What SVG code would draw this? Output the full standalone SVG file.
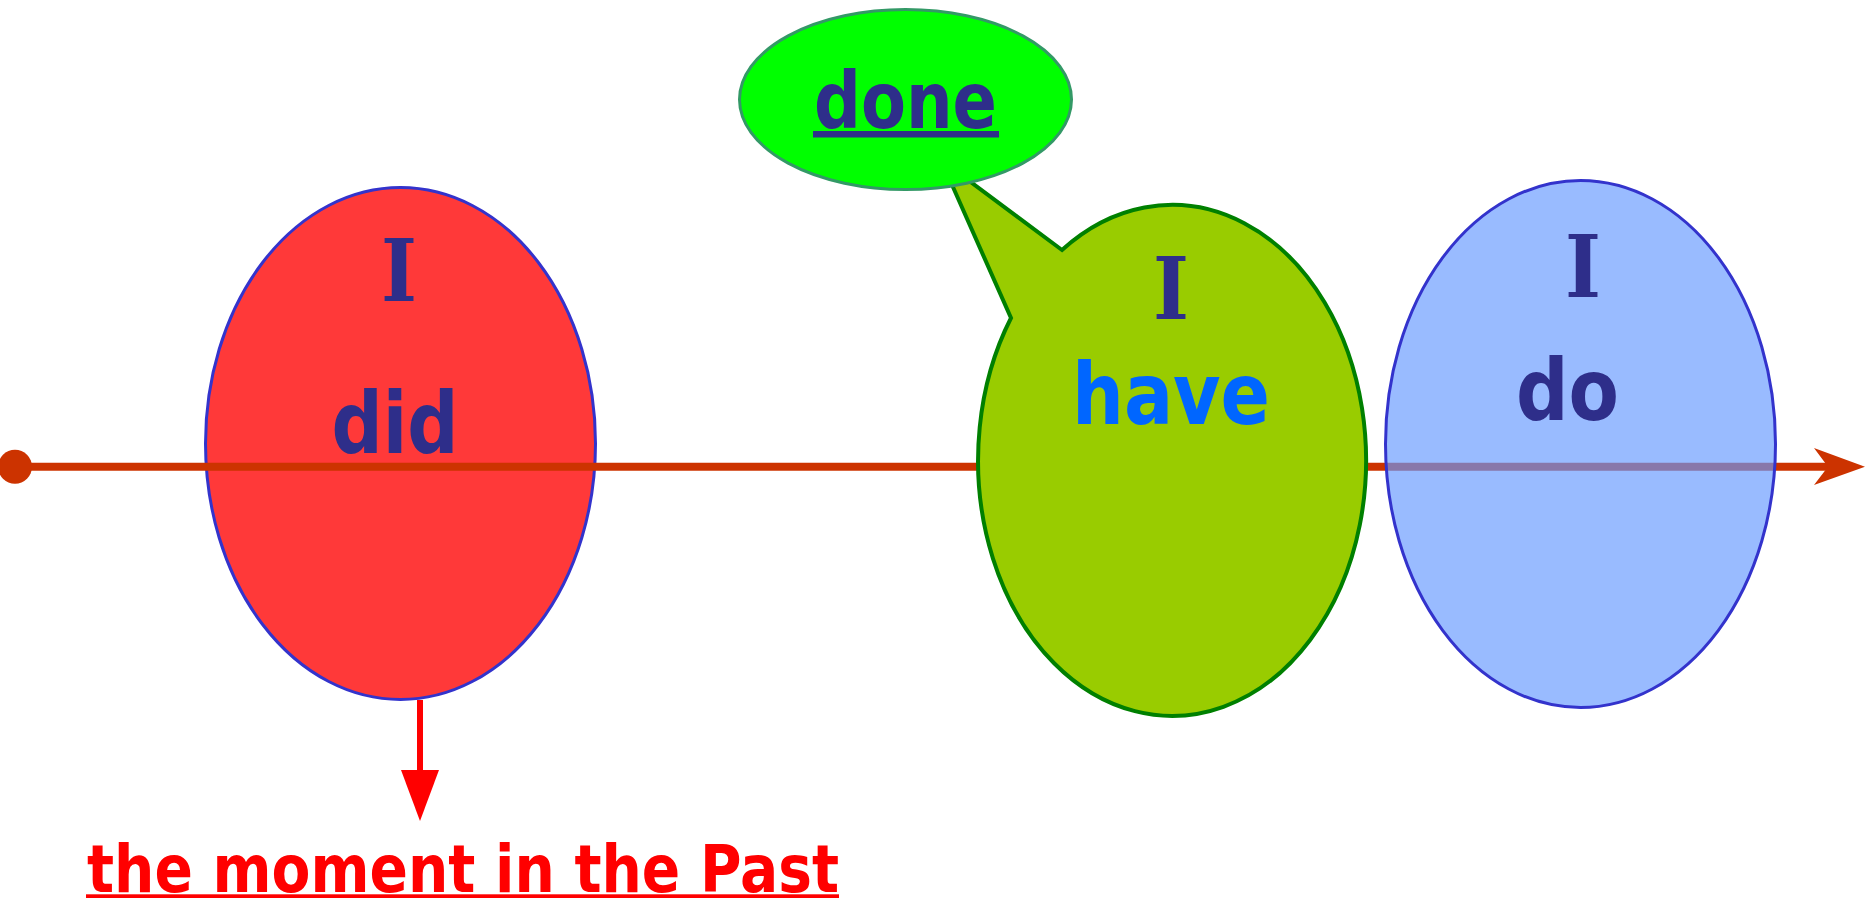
<svg xmlns="http://www.w3.org/2000/svg" width="1872" height="898" viewBox="0 0 1872 898">
  <style>
    .t { font-family: "DejaVu Sans", "Liberation Sans", sans-serif; font-weight: bold; text-anchor: middle; }
    .i { font-family: "DejaVu Serif", "Liberation Serif", serif; font-weight: bold; text-anchor: middle; font-size: 86px; fill: #2E2E8A; }
    .navy { fill: #2E2E8A; }
    .big { font-size: 86px; }
  </style>
  <rect width="1872" height="898" fill="#FFFFFF"/>

  <g id="node-did">
    <ellipse cx="400.5" cy="443.5" rx="195" ry="256" fill="#FF3939" stroke="#3333CC" stroke-width="3"/>
    <text class="i" x="399" y="300.5" textLength="36" lengthAdjust="spacingAndGlyphs">I</text>
    <text class="t navy big" x="395" y="452.5" textLength="127" lengthAdjust="spacingAndGlyphs">did</text>
  </g>

  <g id="connectors">
    <line x1="15" y1="466.7" x2="1830" y2="466.7" stroke="#CC3300" stroke-width="8"/>
    <circle cx="15" cy="466.7" r="17" fill="#CC3300"/>
    <polygon points="1865,466.7 1814,448 1828,466.7 1814,485" fill="#CC3300"/>
    <line x1="420" y1="700" x2="420" y2="772" stroke="#FF0000" stroke-width="6"/>
    <polygon points="401,770 439,770 420,821" fill="#FF0000"/>
  </g>

  <g id="node-have">
    <path d="M1062,250 L941,160 L1011,318 A194,255.5 0 1 0 1062,250 Z" fill="#99CC00" stroke="#008000" stroke-width="4" stroke-linejoin="miter"/>
    <text class="i" x="1171" y="319" textLength="36" lengthAdjust="spacingAndGlyphs">I</text>
    <text class="t big" x="1171" y="424" fill="#0066FF" textLength="198" lengthAdjust="spacingAndGlyphs">have</text>
  </g>

  <g id="node-done">
    <ellipse cx="905.5" cy="99.5" rx="166" ry="90" fill="#00FF00" stroke="#339966" stroke-width="3"/>
    <text class="t navy" x="905.5" y="128" font-size="78" textLength="183" lengthAdjust="spacingAndGlyphs">done</text>
    <rect x="813" y="131" width="186" height="6.5" fill="#2E2E8A"/>
  </g>

  <g id="node-do">
    <ellipse cx="1580.5" cy="444" rx="195" ry="263.5" fill="#6699FF" fill-opacity="0.667" stroke="#3333CC" stroke-width="3"/>
    <text class="i" x="1583" y="297" textLength="36" lengthAdjust="spacingAndGlyphs">I</text>
    <text class="t navy big" x="1567.5" y="420" textLength="103" lengthAdjust="spacingAndGlyphs">do</text>
  </g>

  <g id="node-past">
    <text class="t" x="463" y="892" font-size="66" fill="#FF0000" textLength="752" lengthAdjust="spacingAndGlyphs">the moment in the Past</text>
    <rect x="86" y="894.3" width="753" height="3.7" fill="#FF0000"/>
  </g>
</svg>
